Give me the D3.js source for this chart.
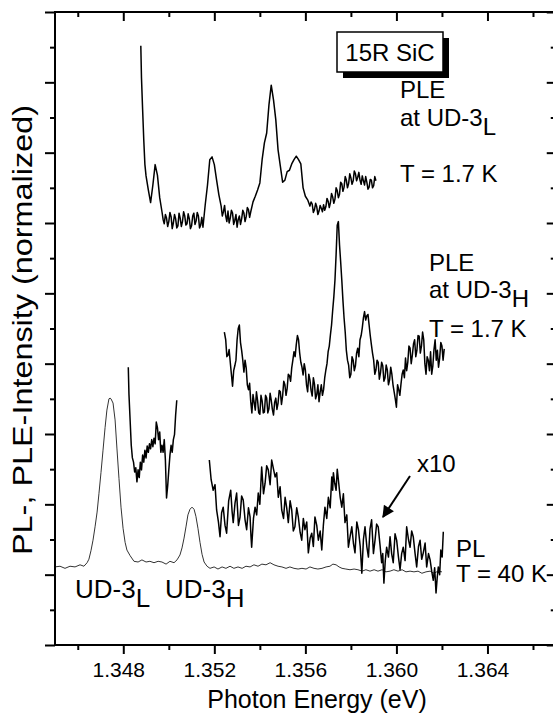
<!DOCTYPE html>
<html>
<head>
<meta charset="utf-8">
<script src="https://cdn.jsdelivr.net/npm/d3@7"></script>
<style>
  body { margin: 0; background: #fff; }
  svg { display: block; }
  text { font-family: "Liberation Sans", Arial, sans-serif; fill: #000; }
</style>
</head>
<body>
<div id="chart"></div>
<script>
// photon energy (eV), intensity (normalized, offset)
var plData = [
  [1.34500,1.11],[1.34522,1.12],[1.34544,1.09],[1.34566,1.12],[1.34588,1.11],[1.34610,1.14],
  [1.34627,1.12],[1.34641,1.17],[1.34649,1.22],[1.34658,1.34],[1.34667,1.49],[1.34676,1.68],
  [1.34685,1.89],[1.34693,2.15],[1.34702,2.45],[1.34711,2.77],[1.34720,3.09],[1.34728,3.34],
  [1.34737,3.50],[1.34742,3.51],[1.34746,3.50],[1.34755,3.44],[1.34764,3.20],[1.34772,2.80],
  [1.34781,2.37],[1.34790,1.96],[1.34799,1.66],[1.34808,1.46],[1.34816,1.35],[1.34830,1.27],
  [1.34847,1.19],[1.34865,1.18],[1.34882,1.21],[1.34900,1.18],[1.34917,1.19],[1.34935,1.17],
  [1.34953,1.19],[1.34970,1.18],[1.34988,1.15],[1.35005,1.19],[1.35023,1.17],[1.35036,1.21],
  [1.35049,1.28],[1.35058,1.38],[1.35067,1.52],[1.35076,1.69],[1.35084,1.85],[1.35093,1.93],
  [1.35102,1.96],[1.35111,1.93],[1.35119,1.83],[1.35128,1.66],[1.35137,1.46],[1.35146,1.29],
  [1.35155,1.18],[1.35168,1.12],[1.35181,1.09],[1.35199,1.11],[1.35216,1.08],[1.35234,1.11],
  [1.35251,1.09],[1.35269,1.12],[1.35286,1.09],[1.35304,1.11],[1.35322,1.09],[1.35339,1.12],
  [1.35357,1.11],[1.35374,1.14],[1.35392,1.12],[1.35409,1.15],[1.35427,1.14],[1.35445,1.17],
  [1.35462,1.14],[1.35480,1.12],[1.35497,1.11],[1.35515,1.09],[1.35532,1.11],[1.35550,1.09],
  [1.35568,1.08],[1.35585,1.09],[1.35603,1.08],[1.35620,1.11],[1.35638,1.09],[1.35655,1.08],
  [1.35673,1.09],[1.35691,1.11],[1.35708,1.12],[1.35721,1.15],[1.35735,1.14],[1.35748,1.11],
  [1.35761,1.09],[1.35778,1.08],[1.35796,1.07],[1.35814,1.08],[1.35831,1.07],[1.35849,1.05],
  [1.35866,1.07],[1.35884,1.05],[1.35902,1.07],[1.35919,1.05],[1.35937,1.07],[1.35954,1.04],
  [1.35972,1.05],[1.35989,1.07],[1.36007,1.05],[1.36025,1.07],[1.36042,1.04],[1.36060,1.05],
  [1.36077,1.04],[1.36095,1.05],[1.36112,1.02],[1.36130,1.04],[1.36148,1.05],[1.36165,1.02],
  [1.36183,1.05],[1.36200,1.04]
];

// PL x10, low energy part
var plx10Low = [
  [1.34822,3.95],[1.34825,3.56],[1.34830,3.20],[1.34835,2.84],[1.34840,2.66],[1.34845,2.60],
  [1.34850,2.46],[1.34855,2.52],[1.34860,2.32],[1.34865,2.49],[1.34870,2.38],[1.34875,2.60],
  [1.34880,2.49],[1.34885,2.70],[1.34890,2.60],[1.34895,2.77],[1.34900,2.66],[1.34905,2.83],
  [1.34910,2.74],[1.34915,2.86],[1.34920,2.79],[1.34925,2.92],[1.34930,2.82],[1.34935,2.94],
  [1.34940,2.86],[1.34945,3.17],[1.34950,3.09],[1.34955,2.92],[1.34960,3.03],[1.34965,2.74],
  [1.34970,2.84],[1.34975,2.74],[1.34980,2.92],[1.34985,2.63],[1.34990,2.09],[1.34995,2.26],
  [1.35000,2.49],[1.35005,2.70],[1.35010,2.84],[1.35015,2.74],[1.35020,2.92],[1.35025,2.99],
  [1.35030,3.27],[1.35035,3.48]
];

// PL x10, high energy part
var plx10High = [
  [1.35178,2.63],[1.35186,2.35],[1.35195,2.20],[1.35203,2.28],[1.35210,1.92],[1.35218,1.75],
  [1.35225,1.54],[1.35232,1.88],[1.35239,1.96],[1.35247,1.70],[1.35254,1.59],[1.35263,2.05],
  [1.35272,2.20],[1.35278,1.90],[1.35283,1.74],[1.35291,2.02],[1.35298,2.16],[1.35306,1.70],
  [1.35313,1.82],[1.35320,2.12],[1.35327,2.06],[1.35335,1.78],[1.35342,1.64],[1.35350,1.95],
  [1.35357,1.82],[1.35361,1.55],[1.35364,1.39],[1.35372,1.80],[1.35379,1.96],[1.35386,1.85],
  [1.35393,2.16],[1.35400,2.00],[1.35408,2.53],[1.35416,2.15],[1.35423,2.30],[1.35430,2.55],
  [1.35437,2.49],[1.35445,2.28],[1.35452,2.63],[1.35460,2.50],[1.35467,2.39],[1.35474,2.45],
  [1.35481,2.10],[1.35489,2.25],[1.35496,1.92],[1.35504,1.80],[1.35511,2.10],[1.35518,1.95],
  [1.35525,1.74],[1.35533,2.05],[1.35540,1.92],[1.35547,1.62],[1.35554,1.68],[1.35562,1.95],
  [1.35569,1.82],[1.35577,1.60],[1.35584,1.49],[1.35591,1.80],[1.35598,1.64],[1.35606,1.75],
  [1.35613,1.31],[1.35621,1.52],[1.35628,1.59],[1.35635,1.40],[1.35642,1.82],[1.35650,1.70],
  [1.35657,1.49],[1.35665,1.62],[1.35672,1.35],[1.35679,1.70],[1.35686,1.96],[1.35694,1.80],
  [1.35701,2.10],[1.35709,1.95],[1.35716,2.39],[1.35720,2.20],[1.35723,2.45],[1.35729,2.30],
  [1.35735,2.20],[1.35740,2.50],[1.35745,2.35],[1.35753,2.10],[1.35760,1.96],[1.35767,2.15],
  [1.35774,1.74],[1.35782,1.85],[1.35789,1.39],[1.35797,1.55],[1.35804,1.68],[1.35811,1.45],
  [1.35818,1.31],[1.35826,1.75],[1.35833,1.64],[1.35841,1.40],[1.35848,1.02],[1.35855,1.50],
  [1.35862,1.68],[1.35870,1.40],[1.35877,1.25],[1.35884,1.65],[1.35891,1.78],[1.35899,1.30],
  [1.35906,1.49],[1.35913,1.72],[1.35920,1.68],[1.35928,1.42],[1.35935,1.17],[1.35940,1.30],
  [1.35945,0.88],[1.35951,1.20],[1.35957,1.39],[1.35965,1.25],[1.35972,1.54],[1.35979,1.30],
  [1.35986,1.17],[1.35994,1.58],[1.36001,1.49],[1.36009,1.25],[1.36016,1.07],[1.36023,1.30],
  [1.36030,1.39],[1.36038,1.20],[1.36045,1.68],[1.36053,1.50],[1.36060,1.39],[1.36067,1.62],
  [1.36074,1.54],[1.36082,1.30],[1.36089,1.11],[1.36097,1.40],[1.36104,1.49],[1.36111,1.22],
  [1.36118,1.31],[1.36126,1.45],[1.36133,1.11],[1.36141,1.30],[1.36148,1.21],[1.36155,1.05],
  [1.36162,0.92],[1.36168,1.10],[1.36174,0.74],[1.36179,0.95],[1.36184,1.11],[1.36190,1.00],
  [1.36195,1.35],[1.36201,1.25],[1.36206,1.61]
];

// PLE detected at UD-3H
var pleH = [
  [1.35244,4.45],[1.3525,4.34],[1.35255,4.10],[1.3526,4.12],[1.35265,4.20],[1.3527,4.02],
  [1.35275,3.85],[1.3528,3.68],[1.35285,3.90],[1.3529,3.97],[1.35295,4.05],[1.3530,4.34],
  [1.35305,4.50],[1.3531,4.55],[1.35315,4.30],[1.3532,4.19],[1.35325,4.05],[1.3533,3.88],
  [1.35335,4.05],[1.3534,3.94],[1.35345,3.70],[1.3535,3.63],[1.35355,3.72],[1.3536,3.46],
  [1.35365,3.30],[1.3537,3.56],[1.35375,3.45],[1.3538,3.34],[1.35385,3.60],[1.3539,3.48],
  [1.35395,3.30],[1.3540,3.28],[1.35405,3.55],[1.3541,3.47],[1.35415,3.30],[1.3542,3.31],
  [1.35425,3.55],[1.3543,3.51],[1.35435,3.30],[1.3544,3.36],[1.35445,3.58],[1.3545,3.48],
  [1.35455,3.35],[1.3546,3.27],[1.35465,3.45],[1.3547,3.51],[1.35475,3.35],[1.3548,3.44],
  [1.35485,3.62],[1.3549,3.60],[1.35495,3.42],[1.3550,3.54],[1.35505,3.75],[1.3551,3.70],
  [1.35515,3.55],[1.3552,3.65],[1.35525,3.85],[1.3553,3.83],[1.35535,3.75],[1.3554,3.94],
  [1.35545,4.05],[1.3555,4.17],[1.35555,4.10],[1.3556,4.27],[1.35565,4.40],[1.3557,4.34],
  [1.35575,4.15],[1.3558,4.02],[1.35585,3.95],[1.3559,3.84],[1.35595,4.00],[1.3560,3.91],
  [1.35605,3.70],[1.3561,3.60],[1.35615,3.85],[1.3562,3.77],[1.35625,3.62],[1.3563,3.54],
  [1.35635,3.80],[1.3564,3.71],[1.35645,3.50],[1.3565,3.56],[1.35655,3.70],[1.3566,3.46],
  [1.35665,3.60],[1.3567,3.70],[1.35675,3.55],[1.3568,3.63],[1.35685,3.80],[1.3569,3.91],
  [1.35695,4.00],[1.3570,4.17],[1.35705,4.25],[1.3571,4.41],[1.35715,4.55],[1.3572,4.76],
  [1.35725,4.95],[1.3573,5.19],[1.35735,5.55],[1.3574,5.97],[1.35745,6.02],[1.3575,5.69],
  [1.35755,5.45],[1.3576,5.19],[1.35765,4.90],[1.3577,4.65],[1.35775,4.45],[1.3578,4.19],
  [1.35785,4.05],[1.3579,3.98],[1.35795,3.80],[1.3580,3.85],[1.35805,4.10],[1.3581,4.05],
  [1.35815,3.90],[1.3582,3.97],[1.35825,4.15],[1.3583,4.22],[1.35835,4.10],[1.3584,4.34],
  [1.35845,4.40],[1.3585,4.51],[1.35855,4.65],[1.3586,4.74],[1.35865,4.62],[1.3587,4.68],
  [1.35875,4.70],[1.3588,4.55],[1.35885,4.40],[1.3589,4.27],[1.35895,4.15],[1.3590,4.05],
  [1.35905,3.85],[1.3591,3.91],[1.35915,4.05],[1.3592,4.02],[1.35925,3.78],[1.3593,3.87],
  [1.35935,4.02],[1.3594,3.97],[1.35945,3.75],[1.3595,3.80],[1.35955,3.98],[1.3596,3.91],
  [1.35965,3.70],[1.3597,3.77],[1.35975,3.95],[1.3598,3.85],[1.35985,3.70],[1.3599,3.60],
  [1.35995,3.50],[1.3600,3.38],[1.36005,3.70],[1.3601,3.63],[1.36015,3.55],[1.3602,3.71],
  [1.36025,3.85],[1.3603,3.91],[1.36035,3.80],[1.3604,4.08],[1.36045,3.90],[1.3605,4.02],
  [1.36055,4.25],[1.3606,4.22],[1.36065,4.00],[1.3607,4.12],[1.36075,4.28],[1.3608,4.34],
  [1.36085,4.10],[1.3609,4.19],[1.36095,4.40],[1.3610,4.39],[1.36105,4.15],[1.3611,4.25],
  [1.36115,4.45],[1.3612,4.34],[1.36125,4.00],[1.3613,3.85],[1.36135,4.10],[1.3614,4.05],
  [1.36145,3.90],[1.3615,4.17],[1.36155,3.85],[1.3616,3.97],[1.36165,4.20],[1.3617,4.34],
  [1.36175,4.05],[1.3618,4.19],[1.36185,3.95],[1.3619,4.08],[1.36195,4.30],[1.3620,4.25],
  [1.36205,4.05],[1.3621,4.21]
];

// PLE detected at UD-3L
var pleL = [
  [1.34877,8.52],[1.34880,8.06],[1.34885,7.61],[1.34890,7.18],[1.34895,6.83],[1.3490,6.67],
  [1.3491,6.47],[1.3492,6.29],[1.3493,6.54],[1.3494,6.83],[1.3495,6.68],[1.3496,6.36],
  [1.3497,6.16],[1.34975,6.05],[1.3498,5.99],[1.34985,6.12],[1.3499,6.07],[1.34995,5.95],
  [1.3500,6.02],[1.35005,6.15],[1.3501,6.09],[1.35015,5.92],[1.3502,6.00],[1.35025,6.12],
  [1.3503,6.06],[1.35035,5.93],[1.3504,5.96],[1.35045,6.14],[1.3505,6.07],[1.35055,5.95],
  [1.3506,6.02],[1.35065,6.16],[1.3507,6.10],[1.35075,5.97],[1.3508,5.99],[1.35085,6.13],
  [1.3509,6.06],[1.35095,5.92],[1.3510,5.96],[1.35105,6.10],[1.3511,6.14],[1.35115,5.98],
  [1.3512,6.03],[1.35125,6.15],[1.3513,6.10],[1.35135,5.93],[1.3514,5.97],[1.35145,6.08],
  [1.3515,5.94],[1.3516,6.26],[1.3517,6.54],[1.3518,6.90],[1.3519,6.94],[1.3520,6.83],
  [1.3521,6.61],[1.3522,6.40],[1.3523,6.24],[1.35235,6.10],[1.3524,6.16],[1.35245,6.25],
  [1.3525,6.10],[1.35255,6.02],[1.3526,6.17],[1.35265,6.00],[1.3527,6.07],[1.35275,6.18],
  [1.3528,6.14],[1.35285,5.98],[1.3529,6.04],[1.35295,6.12],[1.3530,5.94],[1.35305,6.05],
  [1.3531,6.10],[1.35315,5.98],[1.3532,6.06],[1.35325,6.18],[1.3533,6.14],[1.35335,6.02],
  [1.3534,6.09],[1.35345,6.22],[1.3535,6.19],[1.35355,6.08],[1.3536,6.16],[1.3537,6.30],
  [1.3538,6.38],[1.3539,6.47],[1.3540,6.57],[1.3541,6.90],[1.3542,7.14],[1.3543,7.28],
  [1.3544,7.68],[1.3545,7.96],[1.3546,7.75],[1.3547,7.47],[1.3548,7.04],[1.3549,6.81],
  [1.3550,6.58],[1.3551,6.61],[1.3552,6.73],[1.3553,6.75],[1.3554,6.84],[1.3555,6.90],
  [1.3556,6.95],[1.3557,6.90],[1.3558,6.84],[1.3559,6.50],[1.3560,6.38],[1.3561,6.33],
  [1.3562,6.24],[1.35625,6.30],[1.3563,6.27],[1.35635,6.15],[1.3564,6.19],[1.35645,6.28],
  [1.3565,6.23],[1.35655,6.12],[1.3566,6.17],[1.35665,6.25],[1.3567,6.21],[1.35675,6.16],
  [1.3568,6.26],[1.35685,6.18],[1.3569,6.23],[1.35695,6.35],[1.3570,6.31],[1.35705,6.22],
  [1.3571,6.29],[1.35715,6.42],[1.3572,6.37],[1.35725,6.28],[1.3573,6.34],[1.35735,6.50],
  [1.3574,6.46],[1.35745,6.36],[1.3575,6.41],[1.35755,6.58],[1.3576,6.56],[1.35765,6.45],
  [1.3577,6.51],[1.35775,6.66],[1.3578,6.61],[1.35785,6.50],[1.3579,6.56],[1.35795,6.70],
  [1.3580,6.64],[1.35805,6.55],[1.3581,6.60],[1.35815,6.74],[1.3582,6.70],[1.35825,6.60],
  [1.3583,6.65],[1.35835,6.72],[1.3584,6.61],[1.35845,6.55],[1.3585,6.67],[1.35855,6.60],
  [1.3586,6.54],[1.35865,6.66],[1.3587,6.58],[1.35875,6.48],[1.3588,6.51],[1.35885,6.62],
  [1.3589,6.61],[1.35895,6.50],[1.3590,6.53],[1.35905,6.66],[1.3591,6.60]
];

var xMajor = [1.348, 1.352, 1.356, 1.360, 1.364];
var xMinor = [1.346, 1.350, 1.354, 1.358, 1.362, 1.366];
var yMajor = [0, 1, 2, 3, 4, 5, 6, 7, 8, 9];
var yMinor = [0.5, 1.5, 2.5, 3.5, 4.5, 5.5, 6.5, 7.5, 8.5];

var width = 553, height = 717;
var plotL = 55, plotR = 555.75, plotT = 12, plotB = 645;

var x = d3.scaleLinear().domain([1.345, 1.367]).range([plotL, plotR]);
var y = d3.scaleLinear().domain([0, 9]).range([plotB, plotT]);

var svg = d3.select("#chart").append("svg")
    .attr("width", width)
    .attr("height", height);

var line = d3.line()
    .x(function(d){ return x(d[0]); })
    .y(function(d){ return y(d[1]); });

// spectra
svg.append("path").datum(plData)
    .attr("d", line).attr("fill", "none")
    .attr("stroke", "#333").attr("stroke-width", 1);

[plx10Low, plx10High, pleH, pleL].forEach(function(s){
  svg.append("path").datum(s)
      .attr("d", line).attr("fill", "none")
      .attr("stroke", "#000").attr("stroke-width", 1.5)
      .attr("stroke-linejoin", "round");
});

// axes
function styleAxis(g){
  g.select(".domain").remove();
  g.selectAll(".tick line").attr("stroke", "#000").attr("stroke-width", 2);
}

svg.append("g").attr("transform", "translate(0," + plotB + ")")
    .call(d3.axisBottom(x).tickValues(xMajor).tickSize(9).tickPadding(8)
          .tickFormat(d3.format(".3f")))
    .call(styleAxis)
    .call(function(g){
      g.selectAll("text").attr("font-size", 21).attr("dx", -5)
        .style("font-family", "'Liberation Sans', Arial, sans-serif");
    });
svg.append("g").attr("transform", "translate(0," + plotB + ")")
    .call(d3.axisBottom(x).tickValues(xMinor).tickSize(5).tickFormat(""))
    .call(styleAxis);

svg.append("g").attr("transform", "translate(0," + plotT + ")")
    .call(d3.axisBottom(x).tickValues(xMajor).tickSize(9).tickFormat(""))
    .call(styleAxis);
svg.append("g").attr("transform", "translate(0," + plotT + ")")
    .call(d3.axisBottom(x).tickValues(xMinor).tickSize(5).tickFormat(""))
    .call(styleAxis);

svg.append("g").attr("transform", "translate(" + plotL + ",0)")
    .call(d3.axisLeft(y).tickValues(yMajor).tickSize(10).tickFormat(""))
    .call(styleAxis);
svg.append("g").attr("transform", "translate(" + plotL + ",0)")
    .call(d3.axisLeft(y).tickValues(yMinor).tickSize(5).tickFormat(""))
    .call(styleAxis);

svg.append("g").attr("transform", "translate(" + plotR + ",0)")
    .call(d3.axisLeft(y).tickValues(yMajor).tickSize(9).tickFormat(""))
    .call(styleAxis);
svg.append("g").attr("transform", "translate(" + plotR + ",0)")
    .call(d3.axisLeft(y).tickValues(yMinor).tickSize(5).tickFormat(""))
    .call(styleAxis);

svg.append("rect")
    .attr("x", plotL).attr("y", plotT)
    .attr("width", plotR - plotL).attr("height", plotB - plotT)
    .attr("fill", "none").attr("stroke", "#000").attr("stroke-width", 2);

// axis titles
svg.append("text")
    .attr("x", 317).attr("y", 708)
    .attr("text-anchor", "middle").attr("font-size", 25)
    .text("Photon Energy (eV)");

svg.append("text")
    .attr("transform", "translate(32,330) rotate(-90)")
    .attr("text-anchor", "middle").attr("font-size", 28)
    .attr("textLength", 450).attr("lengthAdjust", "spacingAndGlyphs")
    .text("PL-, PLE-Intensity (normalized)");

// sample box
svg.append("rect").attr("x", 343).attr("y", 38).attr("width", 106).attr("height", 40)
    .attr("fill", "#000");
svg.append("rect").attr("x", 337).attr("y", 32).attr("width", 106).attr("height", 40)
    .attr("fill", "#fff").attr("stroke", "#000").attr("stroke-width", 1.5);
svg.append("text").attr("x", 390).attr("y", 61).attr("text-anchor", "middle")
    .attr("font-size", 24).text("15R SiC");

// annotations
function block(x0, y0, rows, size){
  var t = svg.append("text").attr("x", x0).attr("y", y0).attr("font-size", size);
  rows.forEach(function(r, i){
    t.append("tspan").attr("x", x0).attr("dy", i === 0 ? 0 : r.dy).text(r.text);
    if (r.sub) {
      t.append("tspan").attr("dy", 9).text(r.sub);
      t.append("tspan").attr("dy", -9).text("");
    }
  });
}

block(400, 98, [
  {text: "PLE"},
  {text: "at UD-3", sub: "L", dy: 28},
  {text: "T = 1.7 K", dy: 47}
], 24);

block(429, 271, [
  {text: "PLE"},
  {text: "at UD-3", sub: "H", dy: 27},
  {text: "T = 1.7 K", dy: 30}
], 24);

block(456, 557, [
  {text: "PL"},
  {text: "T = 40 K", dy: 25}
], 24);

svg.append("text").attr("x", 75).attr("y", 598).attr("font-size", 26)
    .text("UD-3").append("tspan").attr("dy", 9).text("L");
svg.append("text").attr("x", 165).attr("y", 598).attr("font-size", 26)
    .text("UD-3").append("tspan").attr("dy", 9).text("H");

svg.append("text").attr("x", 417).attr("y", 472).attr("font-size", 24).text("x10");

svg.append("defs").append("marker")
    .attr("id", "head").attr("viewBox", "0 0 10 10")
    .attr("refX", 9).attr("refY", 5)
    .attr("markerWidth", 7).attr("markerHeight", 6)
    .attr("markerUnits", "strokeWidth")
    .attr("orient", "auto")
    .append("path").attr("d", "M0,0 L10,5 L0,10 z").attr("fill", "#000");

svg.append("line")
    .attr("x1", 410).attr("y1", 476).attr("x2", 383).attr("y2", 517)
    .attr("stroke", "#000").attr("stroke-width", 2)
    .attr("marker-end", "url(#head)");
</script>
</body>
</html>
